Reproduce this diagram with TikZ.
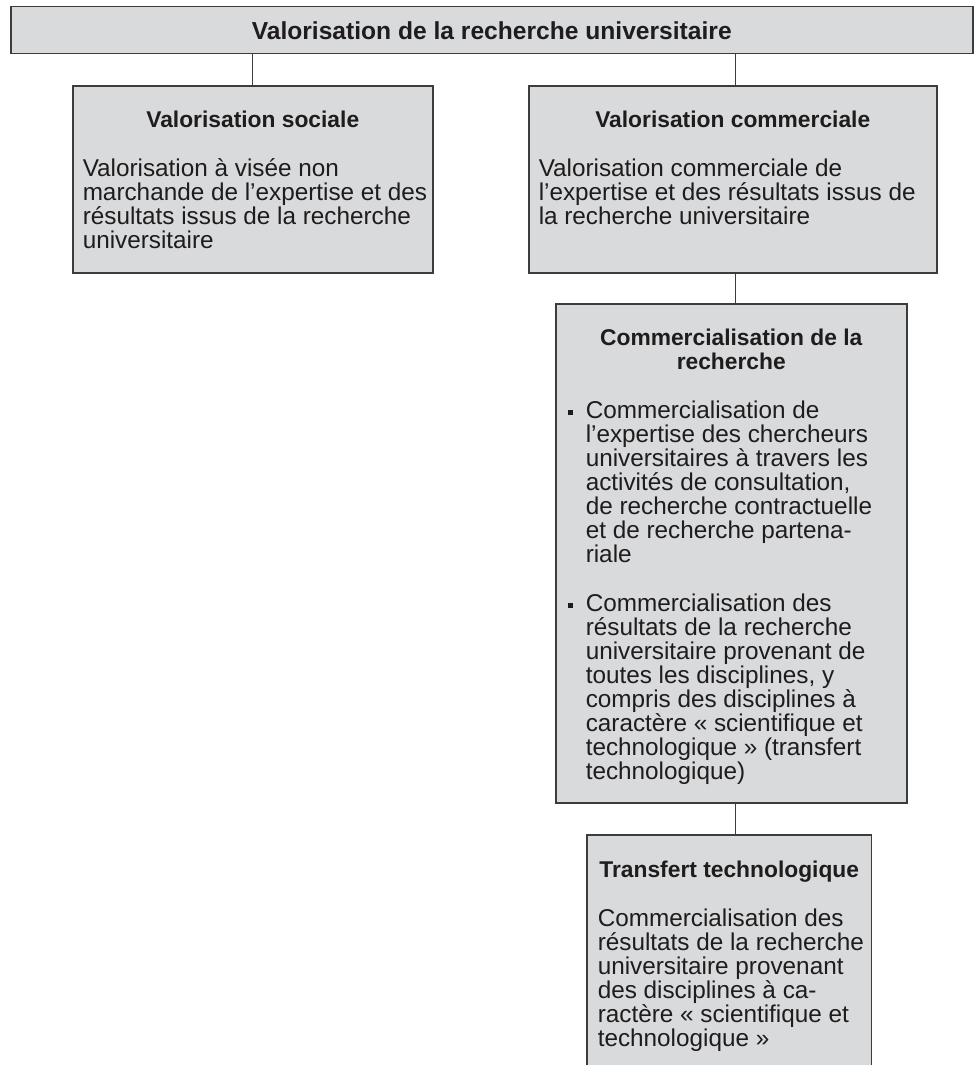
\documentclass[tikz,border=0pt]{standalone}
\usepackage{fontspec}
\setmainfont{Liberation Sans}
\usetikzlibrary{positioning}

\definecolor{boxfill}{RGB}{217,218,219}
\definecolor{boxline}{RGB}{60,60,60}
\definecolor{ink}{RGB}{30,28,29}

\tikzset{
  box/.style={fill=boxfill, draw=boxline, line width=1.5pt, inner xsep=10pt, inner ysep=0pt, anchor=north west, text=ink},
  link/.style={draw=boxline, line width=0.9pt},
}

% contenu d'une boite : largeur, hauteur, titre, texte
\newcommand{\boxbody}[4]{\parbox[t][#2][t]{#1}{\fontsize{24.3}{24}\selectfont\lineskiplimit=-100pt
  \vspace*{25pt}{\centering\fontsize{22.8}{24}\selectfont\bfseries #3\par}\vspace{25pt}%
  \rightskip=-40pt plus 1fil #4\par}}
\newcommand{\puce}{\par\noindent\hangindent=20pt\hangafter=1\makebox[20pt][l]{\hspace{2.5pt}\raisebox{3.5pt}{\rule{5pt}{5pt}}}}

\begin{document}
\begin{tikzpicture}[x=1pt, y=-1pt]
    \useasboundingbox (0,0) rectangle (974,1065);
    \coordinate (spine) at (735,0);

    \node[box, inner xsep=0pt, minimum width=962pt, minimum height=47pt, font=\fontsize{24.6}{24}\selectfont\bfseries] (top) at (10,6) {Valorisation de la recherche universitaire};

    \node[box] (sociale) at (72,85) {\boxbody{340pt}{187pt}{Valorisation sociale}{%
      Valorisation à visée non\\
      marchande de l’expertise et des\\
      résultats issus de la recherche\\
      universitaire}};

    \node[box] (commerciale) at (528,85) {\boxbody{388pt}{187pt}{Valorisation commerciale}{%
      Valorisation commerciale de\\
      l’expertise et des résultats issus de\\
      la recherche universitaire}};

    \node[box] (commercialisation) at (555,303) {\boxbody{331pt}{499pt}{Commercialisation de la\\ recherche}{%
      \puce Commercialisation de\\
      l’expertise des chercheurs\\
      universitaires à travers les\\
      activités de consultation,\\
      de recherche contractuelle\\
      et de recherche partena-\\
      riale\par\vspace{25pt}
      \puce Commercialisation des\\
      résultats de la recherche\\
      universitaire provenant de\\
      toutes les disciplines, y\\
      compris des disciplines à\\
      caractère « scientifique et\\
      technologique » (transfert\\
      technologique)}};

    \node[box, draw=none] (transfert) at (587,835) {\boxbody{263pt}{250pt}{\makebox[\linewidth]{Transfert technologique}}{%
      Commercialisation des\\
      résultats de la recherche\\
      universitaire provenant\\
      des disciplines à ca-\\
      ractère « scientifique et\\
      technologique »}};
    \draw[boxline, line width=1.5pt] (transfert.south west) |- (transfert.north east) -- (transfert.south east);

    \draw[link] (sociale.north |- top.south) -- (sociale.north);
    \draw[link] (top.south -| spine) -- (commerciale.north -| spine);
    \draw[link] (commerciale.south -| spine) -- (commercialisation.north -| spine);
    \draw[link] (commercialisation.south -| spine) -- (transfert.north -| spine);
\end{tikzpicture}
\end{document}
